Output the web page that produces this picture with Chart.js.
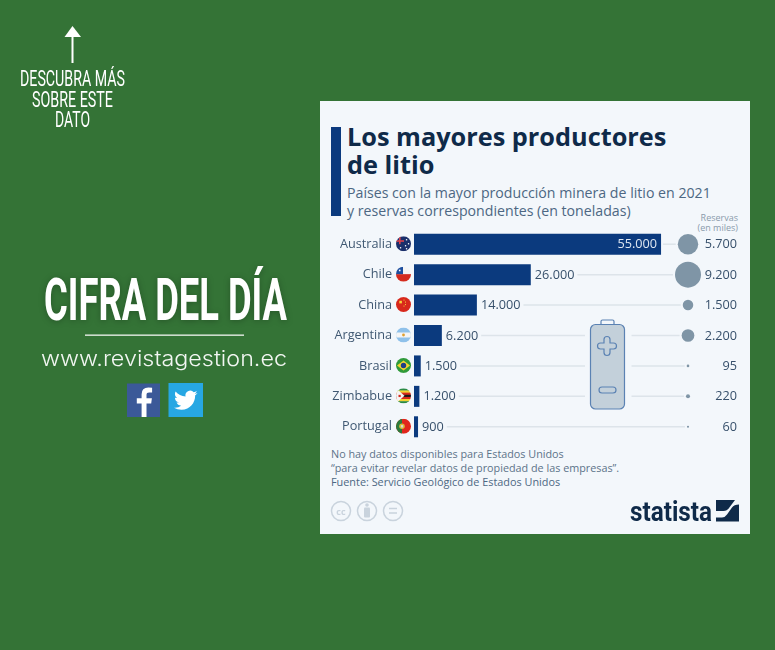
<!DOCTYPE html>
<html>
<head>
<meta charset="utf-8">
<script src="https://cdn.jsdelivr.net/npm/chart.js@4"></script>
<style>
  html, body { margin: 0; padding: 0; }
  body { width: 775px; height: 650px; overflow: hidden; position: relative; background: #347336; font-family: "Open Sans", sans-serif; }
  .abs { position: absolute; white-space: nowrap; }
  #panel { left: 320px; top: 101px; width: 430px; height: 433px; background: #f3f7fb; }
  #accent { left: 331px; top: 127px; width: 10px; height: 89px; background: #0b3a7e; }
  #title { left: 347px; top: 122px; font-size: 25.3px; line-height: 28px; font-weight: 700; color: #0f2a49; }
  #subtitle { left: 347px; top: 184px; font-size: 14.17px; line-height: 17.5px; color: #4d6783; }
  #resHead { right: 37px; top: 213px; font-size: 9px; line-height: 9.5px; color: #8a9bab; text-align: right; }
  #notes { left: 331px; top: 447px; font-size: 10.8px; line-height: 13.5px; color: #5c7389; }
  #source { left: 331px; top: 474.5px; font-size: 10.87px; line-height: 14px; color: #4d6783; }
  #chartBox { left: 320px; top: 229px; }
  svg.abs { overflow: visible; }
</style>
</head>
<body>
<div class="abs" id="panel"></div>
<div class="abs" id="accent"></div>
<div class="abs" id="title">Los mayores productores<br>de litio</div>
<div class="abs" id="subtitle">Países con la mayor producción minera de litio en 2021<br>y reservas correspondientes (en toneladas)</div>
<div class="abs" id="resHead">Reservas<br>(en miles)</div>
<div class="abs" id="chartBox"><canvas id="litioChart" width="430" height="213"></canvas></div>
<div class="abs" id="notes">No hay datos disponibles para Estados Unidos<br>“para evitar revelar datos de propiedad de las empresas”.</div>
<div class="abs" id="source">Fuente: Servicio Geológico de Estados Unidos</div>

<!-- bateria -->
<svg class="abs" style="left:0;top:0" width="775" height="650">
  <rect x="585" y="318" width="46.5" height="96" fill="#f3f7fb"/>
  <path d="M601 324v-2.500q0-1.500 1.500-1.500h10q1.500 0 1.500 1.500v2.500" fill="none" stroke="#5b82b3" stroke-width="1.2"/>
  <rect x="590.5" y="324.500" width="34" height="84.500" rx="5" fill="#c3d0da" stroke="#5b82b3" stroke-width="1.2"/>
  <path d="M604 339.500a3 3 0 0 1 6 0v3.500h3.500a3 3 0 0 1 0 6h-3.500v3.500a3 3 0 0 1 -6 0v-3.500h-3.500a3 3 0 0 1 0 -6h3.500z" fill="none" stroke="#5b82b3" stroke-width="1.2"/>
  <rect x="599" y="387" width="17" height="6" rx="3" fill="none" stroke="#5b82b3" stroke-width="1.2"/>
</svg>

<!-- pie del panel: licencia y logo -->
<svg class="abs" style="left:0;top:0" width="775" height="650">
  <g fill="none" stroke="#c9d3dd" stroke-width="1.5">
    <circle cx="341" cy="511" r="9.5"/>
    <circle cx="367" cy="511" r="9.5"/>
    <circle cx="393" cy="511" r="9.5"/>
    <path d="M389 508.500h8M389 513h8"/>
  </g>
  <text x="341" y="514.500" font-family="Open Sans" font-size="9" font-weight="700" fill="#c9d3dd" text-anchor="middle">cc</text>
  <circle cx="367" cy="505" r="1.800" fill="#c9d3dd"/>
  <rect x="364" y="507.500" width="6" height="10" rx="1" fill="#c9d3dd"/>
  <text x="630" y="521" font-family="Roboto" font-size="27" font-weight="700" fill="#0f2a49" textLength="82" lengthAdjust="spacingAndGlyphs">statista</text>
  <rect x="716" y="500" width="23" height="21.500" fill="#0f2a49"/>
  <path d="M716 517.500h6q3 0 5-3l5-7q2-3 7-3v-4.500h-4l-6 8q-2 3-5.500 3h-7.500z" fill="#f3f7fb"/>
</svg>

<!-- lado izquierdo -->
<svg class="abs" style="left:0;top:0" width="775" height="650">
  <path d="M64.500 37L72.500 26L81 37Z" fill="#fff"/>
  <rect x="71.500" y="36" width="2" height="27" fill="#fff"/>
  <g font-family="Roboto" font-size="22" fill="#fff">
    <text x="20" y="86" textLength="105" lengthAdjust="spacingAndGlyphs">DESCUBRA MÁS</text>
    <text x="32" y="106.500" textLength="81" lengthAdjust="spacingAndGlyphs">SOBRE ESTE</text>
    <text x="55" y="127" textLength="35" lengthAdjust="spacingAndGlyphs">DATO</text>
  </g>
  <text x="44" y="320" font-family="Roboto" font-size="60" font-weight="700" fill="#fff" textLength="243" lengthAdjust="spacingAndGlyphs" style="filter:drop-shadow(0 1px 3px rgba(0,0,0,.25))">CIFRA DEL DÍA</text>
  <rect x="85" y="334.500" width="159" height="1.300" fill="#f2f6f2"/>
  <text x="41" y="366" font-family="Inter" font-size="21" font-weight="300" fill="#f2f6f2" textLength="246" lengthAdjust="spacingAndGlyphs">www.revistagestion.ec</text>
  <rect x="127" y="383.500" width="33" height="33.500" fill="#3b5998"/>
  <path d="M146.500 417v-13.500h4.700l.7-5.300h-5.400v-3.300q0-2.400 2.600-2.400h3v-4.800q-1.300-.2-3.700-.2-6.800 0-6.800 6.800v3.900h-4.800v5.300h4.800v13.500z" fill="#fff"/>
  <rect x="168.500" y="383" width="34.500" height="34" fill="#27a7e3"/>
  <path transform="translate(174,388.500) scale(.98)" fill="#fff" d="M23.953 4.570a10 10 0 01-2.825.775 4.958 4.958 0 002.163-2.723c-.951.555-2.005.959-3.127 1.184a4.920 4.920 0 00-8.384 4.482C7.690 8.095 4.067 6.130 1.640 3.162a4.822 4.822 0 00-.666 2.475c0 1.710.870 3.213 2.188 4.096a4.904 4.904 0 01-2.228-.616v.060a4.923 4.923 0 003.946 4.827 4.996 4.996 0 01-2.212.085 4.936 4.936 0 004.604 3.417 9.867 9.867 0 01-6.102 2.105c-.390 0-.779-.023-1.170-.067a13.995 13.995 0 007.557 2.209c9.053 0 13.998-7.496 13.998-13.985 0-.210 0-.420-.015-.630A9.935 9.935 0 0024 4.590z"/>
</svg>

<script>
const paises = ['Australia', 'Chile', 'China', 'Argentina', 'Brasil', 'Zimbabue', 'Portugal'];
const produccion = [55000, 26000, 14000, 6200, 1500, 1200, 900];
const reservas = [5700, 9200, 1500, 2200, 95, 220, 60];
const columnas = ['', 'Reservas'];

const fmt = v => v.toLocaleString('de-DE');
const bubbleRadius = v => Math.sqrt(v) * 0.1355;
const font = '12.7px "Open Sans"';

// banderas redondas, cada una recortada a un circulo
const banderas = {
  Australia(c, x, y, r) {
    c.fillStyle = '#1a2f6b'; c.fillRect(x - r, y - r, 2 * r, 2 * r);
    c.fillStyle = '#d9424e'; c.fillRect(x - r, y - 3.5, 8, 1.6); c.fillRect(x - 4.5, y - r, 1.6, 8);
    c.fillStyle = '#fff';
    [[3, -4], [5, 0], [2, 2], [3, 5], [-3, 4]].forEach(p => c.fillRect(x + p[0] - .6, y + p[1] - .6, 1.3, 1.3));
  },
  Chile(c, x, y, r) {
    c.fillStyle = '#f4f4f4'; c.fillRect(x - r, y - r, 2 * r, r);
    c.fillStyle = '#d52b1e'; c.fillRect(x - r, y, 2 * r, r);
    c.fillStyle = '#1d4e9e'; c.fillRect(x - r, y - r, r - 0.5, r);
    c.fillStyle = '#fff'; c.fillRect(x - 4.6, y - 4.5, 1.6, 1.6);
  },
  China(c, x, y, r) {
    c.fillStyle = '#d8281c'; c.fillRect(x - r, y - r, 2 * r, 2 * r);
    c.fillStyle = '#f7d23a'; c.fillRect(x - 4.2, y - 3.8, 2.6, 2.6);
    [[0, -5], [1.5, -3], [1.5, -.5], [0, 1]].forEach(p => c.fillRect(x + p[0], y + p[1], 1, 1));
  },
  Argentina(c, x, y, r) {
    c.fillStyle = '#8fc1ea'; c.fillRect(x - r, y - r, 2 * r, 2 * r);
    c.fillStyle = '#f5f5f5'; c.fillRect(x - r, y - 2.5, 2 * r, 5);
    c.fillStyle = '#e0a030'; c.beginPath(); c.arc(x, y, 1.4, 0, 7); c.fill();
  },
  Brasil(c, x, y, r) {
    c.fillStyle = '#2f9a3a'; c.fillRect(x - r, y - r, 2 * r, 2 * r);
    c.fillStyle = '#f3d52f'; c.beginPath();
    c.moveTo(x - 6.5, y); c.lineTo(x, y - 5); c.lineTo(x + 6.5, y); c.lineTo(x, y + 5); c.fill();
    c.fillStyle = '#1f3f86'; c.beginPath(); c.arc(x, y, 2.7, 0, 7); c.fill();
  },
  Zimbabue(c, x, y, r) {
    ['#2a8a45', '#f3d230', '#d8281c', '#1a1a1a', '#d8281c', '#f3d230', '#2a8a45'].forEach((col, i) => {
      c.fillStyle = col; c.fillRect(x - r, y - r + i * 2 * r / 7, 2 * r, 2 * r / 7 + .3);
    });
    c.fillStyle = '#f4f4f4'; c.beginPath();
    c.moveTo(x - r, y - r); c.lineTo(x + 1, y); c.lineTo(x - r, y + r); c.fill();
    c.fillStyle = '#d8281c'; c.fillRect(x - 5, y - 1, 2.2, 2.2);
  },
  Portugal(c, x, y, r) {
    c.fillStyle = '#e1261c'; c.fillRect(x - r, y - r, 2 * r, 2 * r);
    c.fillStyle = '#2a7a3c'; c.fillRect(x - r, y - r, r * .8, 2 * r);
    c.fillStyle = '#d9b93a'; c.beginPath(); c.arc(x - 1.5, y, 2.8, 0, 7); c.fill();
    c.fillStyle = '#d8d8d8'; c.fillRect(x - 2.6, y - 1.2, 2.2, 2.4);
  }
};

// lineas guia, etiquetas de valores y banderas
const filaPlugin = {
  id: 'filas',
  beforeDatasetsDraw(chart) {
    const c = chart.ctx, x = chart.scales.x, y = chart.scales.y, col = chart.scales.xR;
    c.save();
    c.font = font;
    c.strokeStyle = '#dde4ea';
    c.lineWidth = 1.5;
    paises.forEach((p, i) => {
      const end = x.getPixelForValue(produccion[i]);
      const inside = produccion[i] === Math.max(...produccion);
      const start = inside ? end + 2 : end + 4 + c.measureText(fmt(produccion[i])).width + 3;
      const stop = col.getPixelForValue(1) - bubbleRadius(reservas[i]) - 2;
      const py = y.getPixelForValue(i);
      c.beginPath(); c.moveTo(start, py); c.lineTo(stop, py); c.stroke();
    });
    c.restore();
  },
  afterDatasetsDraw(chart) {
    const c = chart.ctx, x = chart.scales.x, y = chart.scales.y;
    c.save();
    c.font = font;
    c.textBaseline = 'middle';
    paises.forEach((p, i) => {
      const end = x.getPixelForValue(produccion[i]);
      const py = y.getPixelForValue(i);
      const inside = produccion[i] === Math.max(...produccion);
      c.textAlign = inside ? 'right' : 'left';
      c.fillStyle = inside ? '#dfe7f2' : '#37506b';
      c.fillText(fmt(produccion[i]), inside ? end - 4 : end + 4, py + 0.5);

      c.textAlign = 'right';
      c.fillStyle = '#37506b';
      c.fillText(fmt(reservas[i]), chart.width - 13, py + 0.5);

      const fx = x.left - 10.5;
      c.save();
      c.beginPath(); c.arc(fx, py - 0.5, 7.5, 0, Math.PI * 2); c.clip();
      banderas[p](c, fx, py - 0.5, 7.5);
      c.restore();
    });
    c.restore();
  }
};

new Chart(document.getElementById('litioChart'), {
  data: {
    labels: paises,
    datasets: [
      {
        type: 'bar',
        indexAxis: 'y',
        xAxisID: 'x',
        yAxisID: 'y',
        data: produccion,
        backgroundColor: '#0b3a7e',
        borderColor: '#0b3a7e',
        // con la burbuja en el mismo eje hay que desagrupar o la barra queda desplazada
        grouped: false,
        categoryPercentage: 1,
        barPercentage: 0.69
      },
      {
        type: 'bubble',
        xAxisID: 'xR',
        yAxisID: 'y',
        clip: false,
        data: paises.map((p, i) => ({ x: columnas[1], y: p, r: bubbleRadius(reservas[i]) })),
        backgroundColor: '#7f95a6',
        borderWidth: 0,
        hoverRadius: 0
      }
    ]
  },
  options: {
    responsive: false,
    animation: false,
    events: [],
    layout: { autoPadding: false, padding: { right: 62, left: 0, top: 0, bottom: 0 } },
    plugins: { legend: { display: false }, tooltip: { enabled: false } },
    scales: {
      x: { type: 'linear', axis: 'x', min: 0, max: 61000, display: false },
      xR: { type: 'category', axis: 'x', labels: columnas, offset: false, display: false },
      y: {
        type: 'category',
        axis: 'y',
        labels: paises,
        offset: true,
        position: 'left',
        // ticks.padding tambien encoge el eje en vertical, por eso se usa tickLength
        afterFit(scale) { scale.width = 94; scale.paddingTop = 0; scale.paddingBottom = 0; },
        grid: { display: false, drawTicks: true, tickLength: 22 },
        border: { display: false },
        ticks: { padding: 0, color: '#3f5872', font: { family: 'Open Sans', size: 12.7 } }
      }
    }
  },
  plugins: [filaPlugin]
});
</script>
</body>
</html>
